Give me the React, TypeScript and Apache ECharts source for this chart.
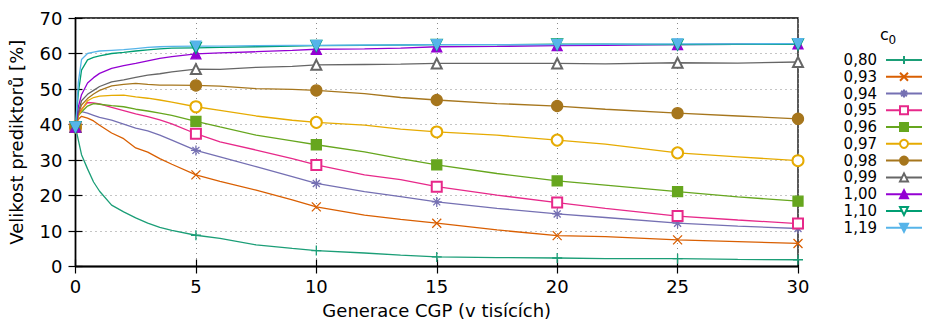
import React, { useEffect, useRef } from 'react';
import * as echarts from 'echarts';

const FONT = 'DejaVu Sans';

// x in thousands of CGP generations
const X_VALUES = [0, 0.12, 0.25, 0.5, 0.75, 1, 1.5, 2, 2.5, 3, 3.5, 4, 5, 6, 7.5, 9, 10, 12, 13.5, 15, 17.5, 20, 22, 25, 27.5, 30];

const S_080 = [39.3, 35.5, 31.5, 27.5, 23.8, 21.2, 17.3, 15.4, 13.7, 12.2, 11.0, 10.2, 8.8, 7.9, 6.1, 5.1, 4.5, 3.8, 3.2, 2.7, 2.5, 2.4, 2.2, 2.2, 2.0, 1.9];
const S_093 = [39.3, 41.5, 42.3, 41.8, 41.0, 39.8, 37.6, 36.0, 33.4, 32.2, 30.4, 28.8, 25.8, 24.0, 21.5, 18.8, 16.8, 14.5, 13.3, 12.2, 10.3, 8.7, 8.4, 7.5, 7.0, 6.5];
const S_094 = [39.3, 43.0, 43.6, 43.2, 42.6, 42.0, 41.2, 40.1, 39.0, 38.2, 37.0, 35.6, 32.7, 30.9, 28.1, 25.3, 23.4, 21.1, 19.7, 18.2, 16.4, 14.8, 13.8, 12.2, 11.4, 10.7];
const S_095 = [39.3, 43.0, 44.3, 46.2, 46.1, 45.8, 44.8, 43.9, 43.0, 42.2, 41.3, 40.2, 37.4, 35.1, 32.8, 30.4, 28.6, 25.8, 24.5, 22.5, 20.1, 18.0, 16.4, 14.2, 13.1, 12.1];
const S_096 = [39.3, 42.5, 43.5, 45.2, 45.9, 45.7, 45.3, 45.0, 44.3, 43.8, 43.2, 42.6, 40.9, 39.3, 37.0, 35.4, 34.3, 32.3, 30.4, 28.6, 26.2, 24.1, 22.9, 21.1, 19.6, 18.4];
const S_097 = [39.3, 42.5, 44.0, 46.7, 47.6, 48.0, 48.2, 48.3, 47.8, 47.4, 46.9, 46.3, 45.0, 44.0, 42.4, 41.2, 40.6, 39.8, 38.7, 37.9, 37.0, 35.6, 34.5, 32.0, 30.9, 29.8];
const S_098 = [39.3, 43.0, 45.5, 47.3, 48.6, 49.6, 50.9, 51.3, 51.6, 51.3, 51.1, 51.1, 51.0, 50.8, 50.1, 49.9, 49.6, 48.7, 47.6, 46.9, 45.9, 45.2, 44.3, 43.2, 42.4, 41.6];
const S_099 = [39.3, 43.5, 46.7, 48.5, 49.6, 50.7, 52.0, 52.6, 53.3, 53.9, 54.3, 54.8, 55.6, 55.5, 56.1, 56.4, 56.8, 56.9, 57.0, 57.2, 57.2, 57.2, 57.1, 57.4, 57.3, 57.6];
const S_100 = [39.3, 45.0, 48.4, 51.7, 53.2, 54.4, 55.8, 56.6, 57.2, 57.9, 58.6, 59.1, 59.9, 60.2, 60.5, 60.9, 61.2, 61.3, 61.5, 61.9, 62.0, 62.2, 62.3, 62.5, 62.6, 62.7];
const S_110 = [39.3, 49.0, 55.3, 58.2, 58.9, 59.3, 60.0, 60.3, 60.7, 61.0, 61.3, 61.5, 61.6, 61.7, 61.9, 62.1, 62.2, 62.3, 62.4, 62.5, 62.5, 62.6, 62.6, 62.5, 62.6, 62.6];
const S_119 = [39.3, 52.0, 58.3, 60.0, 60.4, 60.7, 60.9, 61.1, 61.4, 61.7, 61.9, 62.0, 62.1, 62.1, 62.2, 62.3, 62.3, 62.4, 62.4, 62.5, 62.5, 62.5, 62.6, 62.7, 62.7, 62.8];

const SERIES_LABELS = ['0,80', '0,93', '0,94', '0,95', '0,96', '0,97', '0,98', '0,99', '1,00', '1,10', '1,19'];
const SERIES_VALUES = [S_080, S_093, S_094, S_095, S_096, S_097, S_098, S_099, S_100, S_110, S_119];

const COLORS = ['#1b9e77', '#d95f02', '#7570b3', '#e7298a', '#66a61e', '#e6ab02', '#a6761d', '#666666', '#9400d3', '#009e73', '#56b4e9'];

const PLUS = 'path://M5,0V10M0,5H10';
const CROSS = 'path://M0,0L10,10M0,10L10,0';
const STAR = 'path://M5,0V10M0,5H10M1.5,1.5L8.5,8.5M1.5,8.5L8.5,1.5';
const SYMBOLS = [PLUS, CROSS, STAR, 'emptyRect', 'rect', 'emptyCircle', 'circle', 'emptyTriangle', 'triangle', 'emptyTriangle', 'triangle'];
const SYMBOL_ROTATE = [0, 0, 0, 0, 0, 0, 0, 0, 0, 180, 180];
const SYMBOL_SIZE = [10, 9, 10, 10, 10, 11, 11, 10, 10, 10, 10];

const X_TICK_STEP = 5;

export default function App() {
  const ref = useRef<HTMLDivElement>(null);

  useEffect(() => {
    if (!ref.current) return;
    const chart = echarts.init(ref.current, null, { renderer: 'svg' });

    const gridDots = { color: '#8a8a8a', type: [1, 4] as any, width: 1 };

    const series = SERIES_VALUES.map((vals, si) => ({
      name: SERIES_LABELS[si],
      type: 'line',
      showAllSymbol: true,
      symbol: SYMBOLS[si],
      symbolSize: SYMBOL_SIZE[si],
      symbolRotate: SYMBOL_ROTATE[si],
      lineStyle: { color: COLORS[si], width: 1.3 },
      itemStyle: { color: COLORS[si], borderColor: COLORS[si], borderWidth: 1.3 },
      emphasis: { disabled: true },
      data: X_VALUES.map((x, i) =>
        x % X_TICK_STEP === 0
          ? { value: [x, vals[i]] }
          : { value: [x, vals[i]], symbol: 'none' }
      ),
    }));

    chart.setOption({
      animation: false,
      backgroundColor: '#ffffff',
      grid: {
        left: 75.5,
        right: 128,
        top: 18,
        bottom: 56.5,
        outerBoundsMode: 'none',
        containLabel: false,
        show: true,
        borderColor: '#000',
        borderWidth: 1.3,
      },
      legend: {
        orient: 'vertical',
        right: 3,
        top: 52.5,
        padding: 0,
        align: 'right',
        itemWidth: 36,
        itemHeight: 10,
        itemGap: 1.77,
        selectedMode: false,
        textStyle: { fontFamily: FONT, fontSize: 15, color: '#000', padding: [0, 4, 0, 0] },
        data: SERIES_LABELS,
      },
      xAxis: [
        {
          type: 'value',
          min: 0,
          max: 30,
          interval: X_TICK_STEP,
          name: 'Generace CGP (v tisících)',
          nameLocation: 'middle',
          nameGap: 35,
          nameTextStyle: { fontFamily: FONT, fontSize: 18, color: '#000' },
          axisLine: { show: true, lineStyle: { color: '#000', width: 1.3 } },
          axisTick: { show: true, inside: true, length: 7, lineStyle: { color: '#000', width: 1.2 } },
          axisLabel: { fontFamily: FONT, fontSize: 18, color: '#000', margin: 11 },
          splitLine: { show: true, lineStyle: gridDots },
        },
        {
          type: 'value',
          position: 'top',
          min: 0,
          max: 30,
          interval: X_TICK_STEP,
          axisLine: { show: true, lineStyle: { color: '#000', width: 1.3 } },
          axisTick: { show: true, inside: true, length: 7, lineStyle: { color: '#000', width: 1.2 } },
          axisLabel: { show: false },
          splitLine: { show: false },
        },
      ],
      yAxis: [
        {
          type: 'value',
          min: 0,
          max: 70,
          interval: 10,
          name: 'Velikost prediktorů [%]',
          nameLocation: 'middle',
          nameGap: 50,
          nameTextStyle: { fontFamily: FONT, fontSize: 18, color: '#000' },
          axisLine: { show: true, lineStyle: { color: '#000', width: 1.3 } },
          axisTick: { show: true, inside: true, length: 7, lineStyle: { color: '#000', width: 1.2 } },
          axisLabel: { fontFamily: FONT, fontSize: 18, color: '#000', margin: 13 },
          splitLine: { show: true, lineStyle: gridDots },
        },
        {
          type: 'value',
          position: 'right',
          min: 0,
          max: 70,
          interval: 10,
          axisLine: { show: true, lineStyle: { color: '#000', width: 1.3 } },
          axisTick: { show: true, inside: true, length: 7, lineStyle: { color: '#000', width: 1.2 } },
          axisLabel: { show: false },
          splitLine: { show: false },
        },
      ],
      graphic: [
        {
          type: 'text',
          x: 880,
          y: 34.5,
          style: {
            text: 'c',
            fontFamily: FONT,
            fontSize: 16,
            fill: '#000',
            textAlign: 'left',
            textVerticalAlign: 'middle',
          },
        },
        {
          type: 'text',
          x: 888.5,
          y: 39.5,
          style: {
            text: '0',
            fontFamily: FONT,
            fontSize: 12,
            fill: '#000',
            textAlign: 'left',
            textVerticalAlign: 'middle',
          },
        },
      ],
      series,
    });

    return () => chart.dispose();
  }, []);

  return (
    <div
      ref={ref}
      style={{ position: 'fixed', left: 0, top: 0, width: 926, height: 323, background: '#fff' }}
    />
  );
}
